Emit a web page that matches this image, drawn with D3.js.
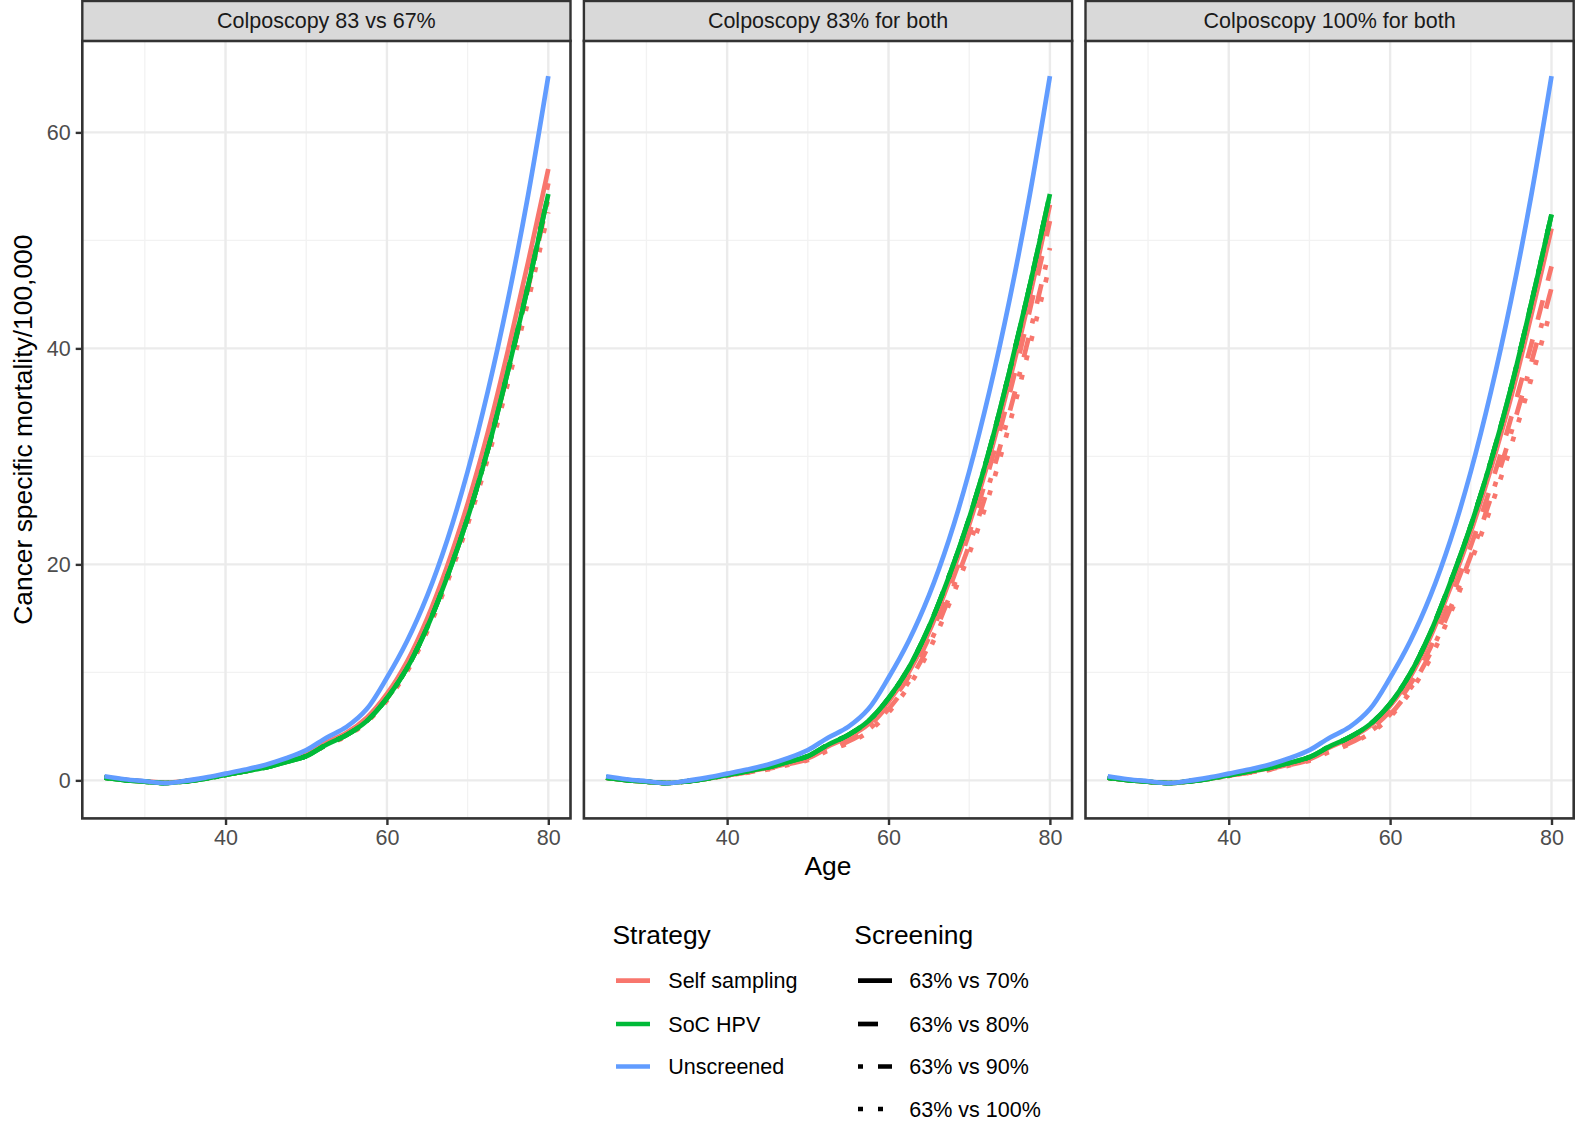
<!DOCTYPE html>
<html><head><meta charset="utf-8">
<script src="https://cdn.jsdelivr.net/npm/d3@7"></script>
<style>
body{margin:0;background:#fff}
text{font-family:"Liberation Sans",Arial,Helvetica,sans-serif}
</style>
</head><body><svg id="c" width="1585" height="1126"></svg>
<script>
// ---------------- data ----------------
const panels = ["Colposcopy 83 vs 67%", "Colposcopy 83% for both", "Colposcopy 100% for both"];
const strategies = ["Self sampling", "SoC HPV", "Unscreened"];
const screeningLevels = ["63% vs 70%", "63% vs 80%", "63% vs 90%", "63% vs 100%"];
const xTicks = [40, 60, 80];
const yTicks = [0, 20, 40, 60];

const ages = [25, 27.5, 30, 32.5, 35, 37.5, 40, 42.5, 45, 47.5, 50, 52.5, 55, 57.5, 60, 62.5, 65, 67.5, 70, 72.5, 75, 77.5, 80];

const unscreened = [0.38, 0.1, -0.08, -0.25, -0.05, 0.25, 0.62, 1.0, 1.45, 2.05, 2.8, 3.95, 4.95, 6.6, 9.5, 12.9, 17.1, 22.3, 28.6, 36.0, 44.5, 54.2, 65.2];

// SoC HPV (identical for all four screening levels within a panel)
const socHpvP1 = [0.25, 0.02, -0.12, -0.25, -0.1, 0.15, 0.5, 0.85, 1.2, 1.7, 2.25, 3.3, 4.2, 5.5, 7.6, 10.4, 14.2, 18.9, 24.3, 30.6, 37.9, 45.8, 54.3];
const socHpvP2 = [0.25, 0.02, -0.12, -0.25, -0.1, 0.15, 0.5, 0.85, 1.2, 1.7, 2.25, 3.3, 4.2, 5.5, 7.6, 10.4, 14.2, 18.9, 24.3, 30.6, 37.9, 45.8, 54.3];
const socHpvP3 = [0.24, 0.01, -0.13, -0.25, -0.1, 0.14, 0.48, 0.82, 1.15, 1.62, 2.15, 3.15, 4.0, 5.2, 7.1, 9.9, 13.7, 18.4, 23.6, 29.6, 36.4, 44.2, 52.4];

// Self sampling, panel 1
const selfP1s70  = [0.28, 0.05, -0.1, -0.22, -0.07, 0.2, 0.55, 0.9, 1.3, 1.8, 2.4, 3.5, 4.4, 5.8, 8.0, 11.0, 15.0, 19.9, 25.6, 32.2, 39.8, 48.0, 56.6];
const selfP1s80  = [0.27, 0.04, -0.1, -0.23, -0.08, 0.18, 0.53, 0.88, 1.27, 1.77, 2.35, 3.4, 4.3, 5.7, 7.8, 10.7, 14.6, 19.4, 25.0, 31.5, 39.0, 47.0, 55.3];
const selfP1s90  = [0.26, 0.03, -0.11, -0.24, -0.09, 0.16, 0.51, 0.86, 1.23, 1.73, 2.3, 3.3, 4.2, 5.5, 7.6, 10.4, 14.2, 18.9, 24.3, 30.6, 37.8, 45.6, 53.9];
const selfP1s100 = [0.25, 0.02, -0.12, -0.25, -0.1, 0.15, 0.5, 0.84, 1.2, 1.7, 2.25, 3.25, 4.1, 5.4, 7.4, 10.1, 13.8, 18.4, 23.7, 29.8, 36.8, 44.4, 52.6];
// Self sampling, panel 2
const selfP2s70  = [0.25, 0.02, -0.12, -0.25, -0.1, 0.15, 0.48, 0.82, 1.15, 1.62, 2.15, 3.15, 4.0, 5.2, 7.3, 10.0, 13.7, 18.4, 23.7, 29.9, 37.0, 44.8, 53.3];
const selfP2s80  = [0.25, 0.02, -0.12, -0.25, -0.1, 0.15, 0.46, 0.79, 1.1, 1.55, 2.05, 3.0, 3.8, 5.0, 7.0, 9.6, 13.2, 17.7, 22.9, 28.9, 35.8, 43.5, 51.8];
const selfP2s90  = [0.25, 0.02, -0.12, -0.25, -0.1, 0.15, 0.44, 0.75, 1.05, 1.48, 1.95, 2.85, 3.6, 4.7, 6.6, 9.1, 12.5, 16.9, 21.8, 27.5, 34.1, 41.4, 49.3];
const selfP2s100 = [0.25, 0.02, -0.12, -0.25, -0.1, 0.15, 0.42, 0.72, 1.0, 1.42, 1.88, 2.75, 3.45, 4.5, 6.3, 8.7, 12.0, 16.3, 21.0, 26.5, 33.0, 40.2, 47.8];
// Self sampling, panel 3
const selfP3s70  = [0.24, 0.01, -0.13, -0.25, -0.1, 0.14, 0.47, 0.8, 1.12, 1.58, 2.1, 3.05, 3.9, 5.05, 6.9, 9.6, 13.3, 17.9, 23.0, 28.9, 35.5, 43.1, 51.1];
const selfP3s80  = [0.24, 0.01, -0.13, -0.25, -0.1, 0.14, 0.44, 0.75, 1.05, 1.48, 1.95, 2.85, 3.6, 4.7, 6.4, 8.9, 12.3, 16.8, 21.7, 27.3, 33.6, 40.4, 47.6];
const selfP3s90  = [0.24, 0.01, -0.13, -0.25, -0.1, 0.14, 0.42, 0.72, 1.0, 1.42, 1.88, 2.75, 3.45, 4.5, 6.1, 8.5, 11.8, 16.0, 20.8, 26.2, 32.2, 38.7, 45.6];
const selfP3s100 = [0.24, 0.01, -0.13, -0.25, -0.1, 0.14, 0.4, 0.7, 0.97, 1.38, 1.82, 2.65, 3.35, 4.35, 5.9, 8.2, 11.3, 15.5, 20.2, 25.3, 31.0, 37.2, 43.8];

// ---------------- build series ----------------
const selfByPanel = [
  [selfP1s70, selfP1s80, selfP1s90, selfP1s100],
  [selfP2s70, selfP2s80, selfP2s90, selfP2s100],
  [selfP3s70, selfP3s80, selfP3s90, selfP3s100]
];
const socByPanel = [socHpvP1, socHpvP2, socHpvP3];

const series = [];
panels.forEach((p, pi) => {
  screeningLevels.forEach((s, si) => series.push({panel: pi, strategy: "Self sampling", screening: s, values: selfByPanel[pi][si]}));
  screeningLevels.forEach((s, si) => series.push({panel: pi, strategy: "SoC HPV", screening: s, values: socByPanel[pi]}));
  series.push({panel: pi, strategy: "Unscreened", screening: screeningLevels[0], values: unscreened});
});

// ---------------- styles ----------------
const colour = d3.scaleOrdinal().domain(strategies).range(["#F8766D", "#00BA38", "#619CFF"]);
const LW = 4.7, U = 5.0;
const dashes = d3.scaleOrdinal().domain(screeningLevels)
  .range(["none", `${4*U} ${4*U}`, `${U} ${3*U} ${4*U} ${3*U}`, `${U} ${3*U}`]);

// ---------------- layout ----------------
const svg = d3.select("#c");
const panelW = 488.2, gap = 13.4, left0 = 82.3;
const panelTop = 40.9, panelBottom = 818.4, stripTop = 1.0;
const FS = 21.5, FT = 26.4;

const xExt = d3.extent(ages), xR = xExt[1] - xExt[0];
const xDom = [xExt[0] - 0.05 * xR, xExt[1] + 0.05 * xR];
const allY = series.flatMap(s => s.values);
const yExt = d3.extent(allY), yR = yExt[1] - yExt[0];
const yDom = [yExt[0] - 0.05 * yR, yExt[1] + 0.05 * yR];
const y = d3.scaleLinear().domain(yDom).range([panelBottom, panelTop]);

const gridMajor = "#EBEBEB";
const dark = "#333333";

panels.forEach((title, pi) => {
  const px = left0 + pi * (panelW + gap);
  const x = d3.scaleLinear().domain(xDom).range([px, px + panelW]);
  const g = svg.append("g");

  g.append("rect").attr("x", px).attr("y", panelTop).attr("width", panelW).attr("height", panelBottom - panelTop).attr("fill", "#fff");

  const xMinor = [30, 50, 70], yMinor = [10, 30, 50];
  xMinor.forEach(v => g.append("line").attr("x1", x(v)).attr("x2", x(v)).attr("y1", panelTop).attr("y2", panelBottom).attr("stroke", "#F2F2F2").attr("stroke-width", 1.3));
  yMinor.forEach(v => g.append("line").attr("x1", px).attr("x2", px + panelW).attr("y1", y(v)).attr("y2", y(v)).attr("stroke", "#F2F2F2").attr("stroke-width", 1.3));
  xTicks.forEach(v => g.append("line").attr("x1", x(v)).attr("x2", x(v)).attr("y1", panelTop).attr("y2", panelBottom).attr("stroke", gridMajor).attr("stroke-width", 2.4));
  yTicks.forEach(v => g.append("line").attr("x1", px).attr("x2", px + panelW).attr("y1", y(v)).attr("y2", y(v)).attr("stroke", gridMajor).attr("stroke-width", 2.4));

  const line = d3.line().x((d, i) => x(ages[i])).y(d => y(d)).curve(d3.curveCatmullRom.alpha(0.5));
  series.filter(s => s.panel === pi).forEach(s => {
    g.append("path").attr("d", line(s.values)).attr("fill", "none")
      .attr("stroke", colour(s.strategy)).attr("stroke-width", LW)
      .attr("stroke-dasharray", s.strategy === "Unscreened" ? "none" : dashes(s.screening))
      .attr("stroke-linecap", "butt").attr("stroke-linejoin", "round");
  });

  g.append("rect").attr("x", px).attr("y", panelTop).attr("width", panelW).attr("height", panelBottom - panelTop)
    .attr("fill", "none").attr("stroke", dark).attr("stroke-width", 2.6);

  g.append("rect").attr("x", px).attr("y", stripTop).attr("width", panelW).attr("height", panelTop - stripTop)
    .attr("fill", "#D9D9D9").attr("stroke", dark).attr("stroke-width", 2.4);
  g.append("text").attr("x", px + panelW / 2).attr("y", (stripTop + panelTop) / 2).attr("dy", "0.35em")
    .attr("text-anchor", "middle").attr("font-size", FS).attr("fill", "#1A1A1A").text(title);

  const xa = g.append("g").attr("transform", `translate(0,${panelBottom})`)
    .call(d3.axisBottom(x).tickValues(xTicks).tickSize(6.6).tickPadding(5));
  xa.select(".domain").remove();
  xa.selectAll("line").attr("stroke", dark).attr("stroke-width", 2.4);
  xa.selectAll("text").attr("font-size", FS).attr("fill", "#4D4D4D").attr("font-family", "Liberation Sans, Arial, sans-serif");

  if (pi === 0) {
    const ya = g.append("g").attr("transform", `translate(${px},0)`)
      .call(d3.axisLeft(y).tickValues(yTicks).tickSize(6.6).tickPadding(5));
    ya.select(".domain").remove();
    ya.selectAll("line").attr("stroke", dark).attr("stroke-width", 2.4);
    ya.selectAll("text").attr("font-size", FS).attr("fill", "#4D4D4D").attr("font-family", "Liberation Sans, Arial, sans-serif");
  }
});

const totalRight = left0 + 3 * panelW + 2 * gap;
svg.append("text").attr("x", (left0 + totalRight) / 2).attr("y", 866).attr("dy", "0.35em")
  .attr("text-anchor", "middle").attr("font-size", FT).attr("fill", "#000").text("Age");
svg.append("text").attr("transform", `translate(23,${(panelTop + panelBottom) / 2}) rotate(-90)`).attr("dy", "0.35em")
  .attr("text-anchor", "middle").attr("font-size", FT).attr("fill", "#000").text("Cancer specific mortality/100,000");

const rowY = [980.7, 1024, 1066.5, 1109];
const lg1 = svg.append("g");
lg1.append("text").attr("x", 612.5).attr("y", 935).attr("dy", "0.35em").attr("font-size", FT).text("Strategy");
strategies.forEach((s, i) => {
  lg1.append("line").attr("x1", 616).attr("x2", 650).attr("y1", rowY[i]).attr("y2", rowY[i])
    .attr("stroke", colour(s)).attr("stroke-width", LW);
  lg1.append("text").attr("x", 668.3).attr("y", rowY[i]).attr("dy", "0.35em").attr("font-size", FS).text(s);
});
const lg2 = svg.append("g");
lg2.append("text").attr("x", 854.3).attr("y", 935).attr("dy", "0.35em").attr("font-size", FT).text("Screening");
screeningLevels.forEach((s, i) => {
  lg2.append("line").attr("x1", 858).attr("x2", 892).attr("y1", rowY[i]).attr("y2", rowY[i])
    .attr("stroke", "#000").attr("stroke-width", LW).attr("stroke-dasharray", dashes(s)).attr("stroke-linecap", "butt");
  lg2.append("text").attr("x", 909.3).attr("y", rowY[i]).attr("dy", "0.35em").attr("font-size", FS).text(s);
});
</script></body></html>
